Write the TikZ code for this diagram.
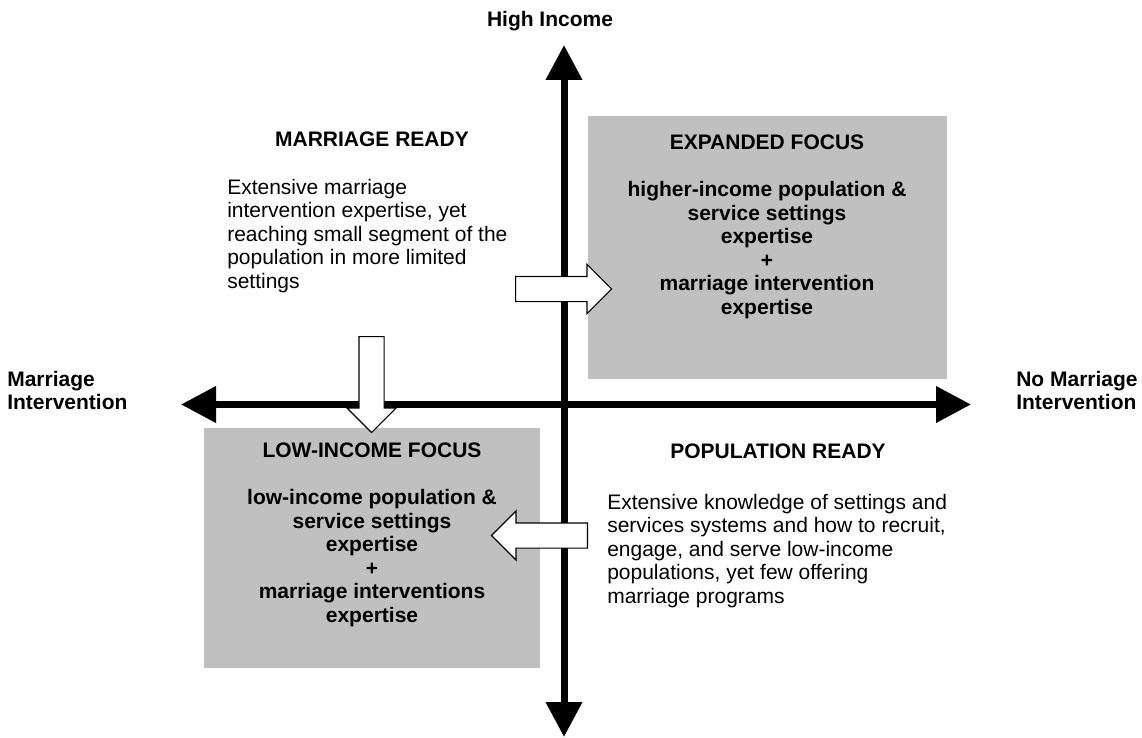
\documentclass[tikz,border=0pt]{standalone}
\usepackage{fontspec}
\setmainfont{Liberation Sans}
\usetikzlibrary{arrows.meta,shapes.arrows}
\definecolor{boxgrey}{RGB}{192,192,192}

\begin{document}
\begin{tikzpicture}[x=0.75pt,y=-0.75pt]
\tikzstyle{every node}+=[inner sep=0pt,font=\fontsize{15.75}{17.6}\selectfont]
\tikzstyle{heading}=[font=\fontsize{15.75}{17.6}\selectfont\bfseries]
\tikzstyle{quadbox}=[fill=boxgrey]
\tikzstyle{axis}=[line width=5.25pt,{Triangle[width=26.25pt,length=26.25pt]}-{Triangle[width=26.25pt,length=26.25pt]}]
\tikzstyle{move}=[draw=black,fill=white,line width=0.9pt,single arrow,single arrow head extend=9pt,inner sep=9pt,minimum height=72pt,anchor=tail]
\useasboundingbox (0,0) rectangle (1142,738);
% shaded quadrants
\node [quadbox,minimum width=269.25pt,minimum height=197.25pt] (expanded) at (767.5,247.5) {};
\node [quadbox,minimum width=252pt,minimum height=180pt] (lowincome) at (372,548) {};
% axes
\coordinate (incomehi) at (564,45);
\coordinate (incomelo) at (564,737);
\coordinate (marryyes) at (181,404.5);
\coordinate (marryno) at (971,404.5);
\draw [axis] (incomelo) -- (incomehi);
\draw [axis] (marryyes) -- (marryno);
% moves between quadrants
\node [move] (toexpanded) at (515,289) {};
\node [move,rotate=-90] (tolowincome) at (371.5,336) {};
\node [move,rotate=180] (frompopulation) at (588,535.5) {};
% axis labels
\node [heading,anchor=base] (highincome) at (550,27) {High Income};
\node [heading,anchor=north west,align=left] (marrylabel) at (7,371) {Marriage\\Intervention};
\node [heading,anchor=north west,align=left] (nomarrylabel) at (1016,371) {No Marriage\\Intervention};
% quadrant texts
\node [heading,anchor=base] (mready) at (372,147) {MARRIAGE READY};
\node [anchor=north west,align=left] (mreadytext) at (227,179) {Extensive marriage\\intervention expertise, yet\\reaching small segment of the\\population in more limited\\settings};
\node [heading,anchor=north,align=center] (expandedtext) at (767,135) {EXPANDED FOCUS\\[17.6pt]higher-income population \&\\service settings\\expertise\\+\\marriage intervention\\expertise};
\node [heading,anchor=north,align=center] (lowincometext) at (372,443) {LOW-INCOME FOCUS\\[17.6pt]low-income population \&\\service settings\\expertise\\+\\marriage interventions\\expertise};
\node [heading,anchor=base] (pready) at (778,458) {POPULATION READY};
\node [anchor=north west,align=left] (preadytext) at (607,494) {Extensive knowledge of settings and\\services systems and how to recruit,\\engage, and serve low-income\\populations, yet few offering\\marriage programs};
\end{tikzpicture}
\end{document}
